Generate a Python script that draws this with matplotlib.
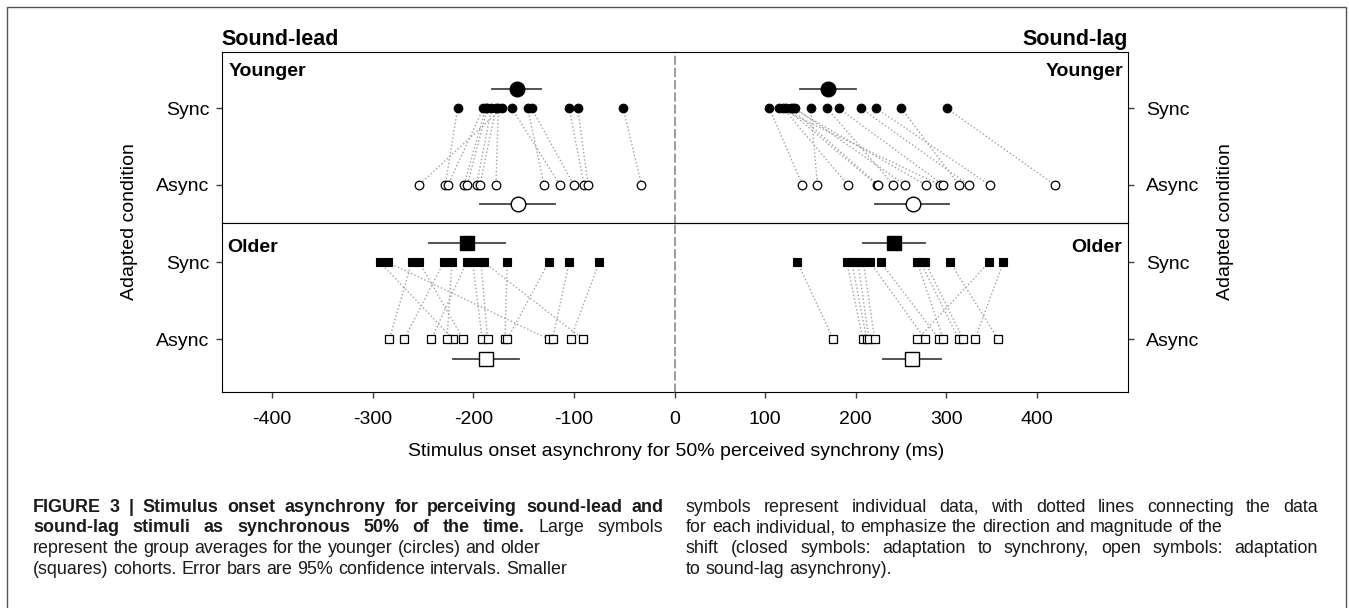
import matplotlib
matplotlib.use('Agg')
import matplotlib.pyplot as plt
from matplotlib import font_manager
from matplotlib.patches import Rectangle

# individual data (ms), same order = same participant
young_lead_sync = [-215.5, -190, -187.7, -186, -182, -177.5, -175, -171.5, -161.6, -146, -142, -104.7, -96.3, -51]
young_lead_async = [-227.8, -225.1, -209.2, -205.9, -196.6, -193.3, -177.5, -253.9, -113.9, -129.5, -100, -89.8, -85.8, -32.8]
young_lag_sync = [104.7, 115.8, 120, 123.2, 128.3, 130.5, 133.1, 150.4, 168.4, 181.2, 205.8, 222.4, 250.3, 300.3]
young_lag_async = [141.1, 292.9, 191.2, 223.1, 224.9, 277.2, 254.4, 157.7, 241.5, 296.6, 324.6, 347.7, 313.9, 419.7]
old_lead_sync = [-292.7, -285, -261.2, -253.6, -229.4, -221.2, -206.6, -200.6, -192.3, -189.4, -166.2, -125.1, -104.7, -74.9]
old_lead_async = [-219.9, -124.8, -283.4, -209.9, -268.8, -226.1, -241.7, -191.1, -185.7, -90.8, -168.5, -166.2, -121.2, -103.3]
old_lag_sync = [135.6, 190.1, 195.6, 202.2, 208.4, 215.8, 227.6, 267.9, 271.7, 276.7, 304, 347, 362.7]
old_lag_async = [175.3, 207.7, 212.1, 214.7, 220.9, 276.7, 292.2, 296.6, 313.6, 318.6, 357.2, 267.9, 331.5]

# group means [sync, async] and 95% CI
young_lead_means = [-157, -156]
young_lead_ci = [(-181, -133), (-193, -119)]
young_lag_means = [169.5, 262.8]
young_lag_ci = [(138.6, 200.3), (221, 303.2)]
old_lead_means = [-206.6, -187.7]
old_lead_ci = [(-243.7, -168.8), (-219.9, -154.9)]
old_lag_means = [242.2, 262.4]
old_lag_ci = [(208.4, 276.4), (230.4, 293.7)]

cond_labels = ['Async', 'Sync']
lead_ticks = [-400, -300, -200, -100, 0]
lag_ticks = [100, 200, 300, 400]

plt.rcParams['font.family'] = ['Liberation Sans', 'DejaVu Sans']
W, H = 1349, 608
fig = plt.figure(figsize=(W / 100, H / 100), dpi=100)

def fx(px): return px / W
def fy(py): return 1 - py / H

xl, xm, xr = 221.7, 674.5, 1127.7
yt, ymid, yb = 51.7, 223.3, 391.7
SPINE = '#404040'

def make_ax(x0, x1, y0, y1):
    return fig.add_axes([fx(x0), fy(y1), fx(x1) - fx(x0), (y1 - y0) / H])

ax_yl = make_ax(xl, xm, yt, ymid)
ax_yr = make_ax(xm, xr, yt, ymid)
ax_ol = make_ax(xl, xm, ymid, yb)
ax_or = make_ax(xm, xr, ymid, yb)

def panel(ax, sync, asyn, means, ci, marker, ms, big):
    for s, a in zip(sync, asyn):
        ax.plot([s, a], [1, 0], ls=':', color='#a0a0a0', lw=1, zorder=1)
    ax.plot(sync, [1] * len(sync), ls='none', marker=marker, ms=ms,
            mfc='black', mec='black', mew=0.8, zorder=3)
    ax.plot(asyn, [0] * len(asyn), ls='none', marker=marker, ms=ms,
            mfc='white', mec='black', mew=0.9, zorder=3)
    ax.plot(ci[0], [1.25, 1.25], color='#444444', lw=1.3, zorder=2)
    ax.plot([means[0]], [1.25], marker=marker, ms=big, mfc='black', mec='black', zorder=4)
    ax.plot(ci[1], [-0.25, -0.25], color='#444444', lw=1.3, zorder=2)
    ax.plot([means[1]], [-0.25], marker=marker, ms=big, mfc='white', mec='black',
            mew=1, zorder=4)

panel(ax_yl, young_lead_sync, young_lead_async, young_lead_means, young_lead_ci, 'o', 6.2, 10.5)
panel(ax_yr, young_lag_sync, young_lag_async, young_lag_means, young_lag_ci, 'o', 6.2, 10.5)
panel(ax_ol, old_lead_sync, old_lead_async, old_lead_means, old_lead_ci, 's', 5.6, 9.5)
panel(ax_or, old_lag_sync, old_lag_async, old_lag_means, old_lag_ci, 's', 5.6, 9.5)

for ax in (ax_yl, ax_yr):
    ax.set_ylim(-0.5, 1.738)
for ax in (ax_ol, ax_or):
    ax.set_ylim(-0.68, 1.506)
for ax in (ax_yl, ax_ol):
    ax.set_xlim(-450, 0)
    ax.spines['right'].set_visible(False)
    ax.set_yticks([0, 1])
    ax.set_yticklabels(cond_labels)
    ax.tick_params(axis='y', direction='out', length=4, width=1, color=SPINE,
                   pad=5, labelsize=14)
for ax in (ax_yr, ax_or):
    ax.set_xlim(0, 500)
    ax.patch.set_visible(False)
    ax.spines['left'].set_linestyle((0, (5, 3)))
    ax.spines['left'].set_color('#808080')
    ax.spines['left'].set_linewidth(1.1)
    ax.yaxis.tick_right()
    ax.set_yticks([0, 1])
    ax.set_yticklabels(cond_labels)
    ax.tick_params(axis='y', direction='out', length=4, width=1, color=SPINE,
                   pad=9, labelsize=14)
for ax in (ax_yl, ax_yr, ax_ol, ax_or):
    for side in ('top', 'bottom', 'left', 'right'):
        if ax.spines[side].get_linestyle() == '-':
            ax.spines[side].set_color(SPINE)
            ax.spines[side].set_linewidth(1.2)
for ax in (ax_yl, ax_yr):
    ax.set_xticks([])
ax_ol.set_xticks(lead_ticks)
ax_ol.set_xticklabels([str(t) for t in lead_ticks])
ax_or.set_xticks(lag_ticks)
ax_or.set_xticklabels([str(t) for t in lag_ticks])
for ax in (ax_ol, ax_or):
    ax.tick_params(axis='x', direction='out', length=4, width=1, color=SPINE,
                   pad=10, labelsize=14)

# panel labels
fig.text(fx(xl), fy(45), 'Sound-lead', fontsize=15.5, weight='bold', va='baseline')
fig.text(fx(xr), fy(45), 'Sound-lag', fontsize=15.5, weight='bold', va='baseline', ha='right')
fig.text(fx(229), fy(76.5), 'Younger', fontsize=14, weight='bold', va='baseline')
fig.text(fx(1123), fy(76.5), 'Younger', fontsize=14, weight='bold', va='baseline', ha='right')
fig.text(fx(227), fy(251.5), 'Older', fontsize=14, weight='bold', va='baseline')
fig.text(fx(1122), fy(251.5), 'Older', fontsize=14, weight='bold', va='baseline', ha='right')

fig.text(fx(129), fy(221.7), 'Adapted condition', fontsize=14, rotation=90,
         ha='center', va='center')
fig.text(fx(1226), fy(221.7), 'Adapted condition', fontsize=14, rotation=90,
         ha='center', va='center')
fig.text(fx(676), fy(451), 'Stimulus onset asynchrony for 50% perceived synchrony (ms)',
         fontsize=14, ha='center', va='center')

# outer frame
fig.patches.append(Rectangle((fx(6.7), -0.05), fx(1345.7) - fx(6.7), fy(7.3) + 0.05,
                             transform=fig.transFigure, fill=False, ec='#555555', lw=1))

# caption
try:
    font_manager.findfont('Liberation Sans Narrow', fallback_to_default=False)
    cap_family = 'Liberation Sans Narrow'
    CAP_FS = 14.5
except ValueError:
    cap_family = 'Liberation Sans'
    CAP_FS = 12.9
renderer = fig.canvas.get_renderer()

def text_w(s, weight):
    t = fig.text(0, 0, s, fontsize=CAP_FS, family=cap_family, weight=weight)
    w = t.get_window_extent(renderer).width
    t.remove()
    return w

space_w = text_w('a a', 'normal') - text_w('aa', 'normal')

def caption_line(x0, y, segments, width=None):
    words = []
    for s, wt in segments:
        words += [(w, wt) for w in s.split(' ')]
    widths = [text_w(w, wt) for w, wt in words]
    gap = space_w
    if width is not None:
        gap = (width - sum(widths)) / (len(words) - 1)
    x = x0
    for (w, wt), ww in zip(words, widths):
        fig.text(fx(x), fy(y), w, fontsize=CAP_FS, family=cap_family, weight=wt,
                 va='baseline', color='#1a1a1a')
        x += ww + gap

col_w = 630
caption_line(33, 512, [('FIGURE 3 | Stimulus onset asynchrony for perceiving sound-lead and', 'bold')], col_w)
caption_line(33, 532.5, [('sound-lag stimuli as synchronous 50% of the time.', 'bold'),
                         ('Large symbols', 'normal')], col_w)
caption_line(33, 553, [('represent the group averages for the younger (circles) and older', 'normal')])
caption_line(33, 573.5, [('(squares) cohorts. Error bars are 95% confidence intervals. Smaller', 'normal')])
caption_line(686, 512, [('symbols represent individual data, with dotted lines connecting the data', 'normal')], 632)
caption_line(686, 532.5, [('for each individual, to emphasize the direction and magnitude of the', 'normal')])
caption_line(686, 553, [('shift (closed symbols: adaptation to synchrony, open symbols: adaptation', 'normal')], 632)
caption_line(686, 573.5, [('to sound-lag asynchrony).', 'normal')])

fig.savefig('out.png', dpi=100)
